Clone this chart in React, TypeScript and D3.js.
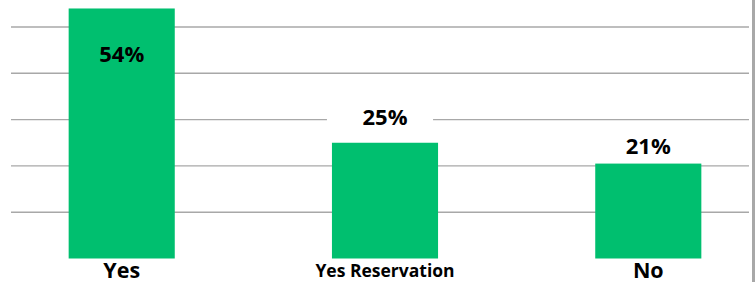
import * as d3 from "d3";

// data
const categories = ["Yes", "Yes Reservation", "No"];
const values = [54, 25, 20.5];
const gridTicks = [10, 20, 30, 40, 50];

// label placement relative to bar top (inside for the tall bar)
const labelDy = [54, -18, -10];
const boxedLabel = [false, true, false];

const W = 755;
const H = 282;
const GREEN = "#00bf6f";
const GRID = "#a8a8a8";
const FONT = "'Open Sans', 'Liberation Sans', sans-serif";

export default function App() {
  const x = d3
    .scaleBand<string>()
    .domain(categories)
    .range([16, 754])
    .paddingInner(0.597)
    .paddingOuter(0.2);
  const y = d3.scaleLinear().domain([0, 50]).range([258.5, 27]);

  return (
    <svg
      width={W}
      height={H}
      style={{ position: "absolute", left: 0, top: 0, background: "#fff" }}
    >
      {gridTicks.map((t) => (
        <line key={t} x1={11} x2={749} y1={y(t)} y2={y(t)} stroke={GRID} strokeWidth={1.4} />
      ))}
      <rect x={752} y={0} width={3} height={H} fill={GRID} />

      {categories.map((c, i) => {
        const bx = x(c) ?? 0;
        const cx = bx + x.bandwidth() / 2;
        const top = y(values[i]);
        const ly = top + labelDy[i];
        return (
          <g key={c}>
            <rect x={bx} y={top} width={x.bandwidth()} height={y(0) - top} fill={GREEN} />
            {boxedLabel[i] && (
              <rect x={bx - 5} y={ly - 25} width={x.bandwidth()} height={30} fill="#fff" />
            )}
            <text
              x={cx}
              y={ly}
              textAnchor="middle"
              fontFamily={FONT}
              fontWeight={700}
              fontSize={22}
              fill="#000"
            >
              {Math.round(values[i])}%
            </text>
            <text
              x={cx}
              y={c.length > 3 ? 276.5 : 277.5}
              textAnchor="middle"
              fontFamily={FONT}
              fontWeight={700}
              fontSize={c.length > 3 ? 17.5 : 21.5}
              fill="#000"
            >
              {c}
            </text>
          </g>
        );
      })}
    </svg>
  );
}
